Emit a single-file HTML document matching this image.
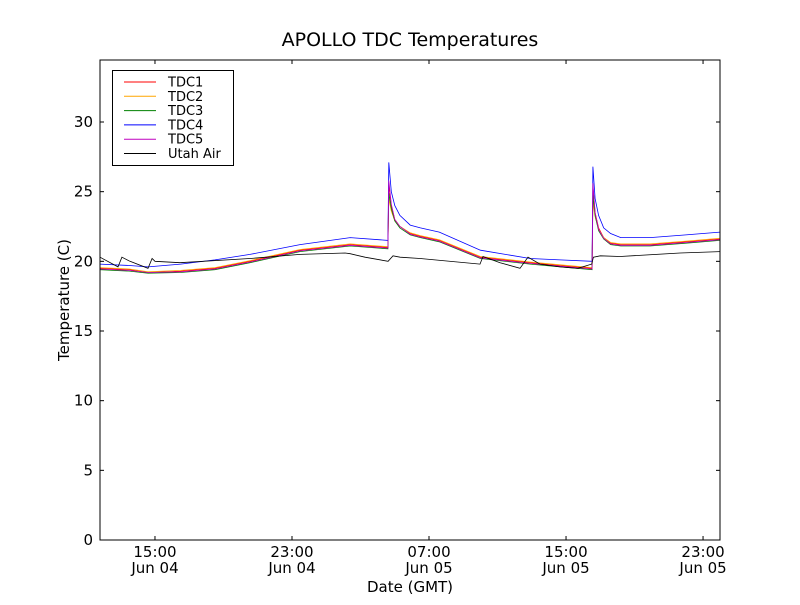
<!DOCTYPE html>
<html><head><meta charset="utf-8"><style>
body{margin:0;background:#fff;font-family:"Liberation Sans","DejaVu Sans",sans-serif}
svg text{font-family:"DejaVu Sans","Liberation Sans",sans-serif}
</style></head><body>
<svg id="chart" width="800" height="600" xmlns="http://www.w3.org/2000/svg">
<rect width="800" height="600" fill="#fff"/>
<text x="410" y="46" font-size="19" text-anchor="middle">APOLLO TDC Temperatures</text>
<g id="plot"></g>
<text x="410" y="592" font-size="15" text-anchor="middle">Date (GMT)</text>
<text transform="translate(69,300) rotate(-90)" font-size="15" text-anchor="middle">Temperature (C)</text>
</svg>
<script>
const tdcTimes=[11.79,13.5,14.6,16.5,18.5,20.55,23.47,26.4,28.6,28.65,28.8,29.0,29.3,29.9,30.5,31.6,34.0,36.9,38.65,40.52,40.57,40.7,40.9,41.2,41.6,42.2,43.9,46.0,47.99];
const tdc1=[19.5,19.4,19.2,19.3,19.5,20.0,20.8,21.2,21.0,25.5,24.0,23.0,22.5,22.0,21.8,21.5,20.3,19.9,19.7,19.5,25.4,23.5,22.4,21.7,21.3,21.2,21.2,21.4,21.6];
const tdc2=[19.55,19.45,19.25,19.35,19.55,20.05,20.85,21.25,21.05,24.5,23.6,22.9,22.5,22.05,21.85,21.55,20.35,19.95,19.75,19.55,24.3,23.2,22.3,21.7,21.35,21.25,21.25,21.45,21.65];
const tdc3=[19.4,19.3,19.15,19.2,19.4,19.9,20.7,21.1,20.9,24.9,23.8,22.9,22.4,21.9,21.7,21.4,20.2,19.8,19.6,19.4,24.8,23.3,22.2,21.6,21.2,21.1,21.1,21.3,21.5];
const tdc4=[19.8,19.7,19.6,19.8,20.1,20.5,21.2,21.7,21.5,27.1,25.0,24.0,23.3,22.6,22.4,22.1,20.8,20.2,20.1,20.0,26.8,24.5,23.3,22.4,22.0,21.7,21.7,21.9,22.1];
const tdc5=[19.45,19.35,19.2,19.25,19.45,19.95,20.75,21.15,20.95,25.8,24.1,23.0,22.5,21.95,21.75,21.45,20.25,19.85,19.65,19.45,25.6,23.5,22.3,21.65,21.25,21.15,21.15,21.35,21.55];
const airTimes=[11.79,12.84,13.07,13.54,14.59,14.83,15.0,16.46,20.55,23.47,26.1,26.39,27.26,28.61,28.9,29.31,30.48,33.98,34.15,35.15,36.31,36.78,37.48,38.65,39.7,40.5,40.6,41.0,42.16,45.66,47.99];
const air=[20.3,19.6,20.3,20.0,19.5,20.2,20.0,19.9,20.2,20.5,20.6,20.55,20.3,20.0,20.4,20.3,20.2,19.8,20.35,19.9,19.5,20.3,19.8,19.6,19.5,19.8,20.3,20.4,20.35,20.6,20.7];
const yTicks=[0,5,10,15,20,25,30];
const xTicks=[15,23,31,39,47];
const xTimeLabels=["15:00","23:00","07:00","15:00","23:00"];
const xDateLabels=["Jun 04","Jun 04","Jun 05","Jun 05","Jun 05"];
const series=[["TDC1",tdcTimes,tdc1,"#ff0000"],["TDC2",tdcTimes,tdc2,"#ffa500"],["TDC3",tdcTimes,tdc3,"#008000"],["TDC4",tdcTimes,tdc4,"#0000ff"],["TDC5",tdcTimes,tdc5,"#bf00bf"],["Utah Air",airTimes,air,"#000000"]];
const L=100,R=720,T=60,B=540,xMin=11.79,xMax=47.99,yMin=0,yMax=34.45;
const xs=h=>L+(h-xMin)/(xMax-xMin)*(R-L);
const ys=v=>B-(v-yMin)/(yMax-yMin)*(B-T);
const NS="http://www.w3.org/2000/svg";
const g=document.getElementById('plot');
function mk(tag,attrs,parent){const e=document.createElementNS(NS,tag);for(const k in attrs)e.setAttribute(k,attrs[k]);(parent||g).appendChild(e);return e;}
series.forEach(s=>{
  const d=s[1].map((t,i)=>(i?'L':'M')+xs(t).toFixed(1)+','+ys(s[2][i]).toFixed(1)).join('');
  const p=mk('path',{d:d,fill:'none',stroke:s[3],'stroke-width':0.8});
  
  
});
const frame=mk('rect',{x:L,y:T,width:R-L,height:B-T,fill:'none',stroke:'#000','stroke-width':1});


yTicks.forEach(v=>{
  const y=ys(v);
  mk('line',{x1:L,x2:L+4,y1:y,y2:y,stroke:'#000'});
  mk('line',{x1:R,x2:R-4,y1:y,y2:y,stroke:'#000'});
  const t=mk('text',{x:L-7,y:y+5,'font-size':15,'text-anchor':'end'});
  t.textContent=v;
  
  
});
xTicks.forEach((h,i)=>{
  const x=xs(h);
  mk('line',{x1:x,x2:x,y1:B,y2:B-4,stroke:'#000'});
  mk('line',{x1:x,x2:x,y1:T,y2:T+4,stroke:'#000'});
  const t=mk('text',{x:x,y:B+17,'font-size':15,'text-anchor':'middle'});
  t.textContent=xTimeLabels[i];
  
  
  const t2=mk('text',{x:x,y:B+33,'font-size':15,'text-anchor':'middle'});
  t2.textContent=xDateLabels[i];
  
  
});
const lg=mk('g',{});


mk('rect',{x:112.5,y:70.5,width:121,height:95,fill:'#fff',stroke:'#000','stroke-width':1},lg);
series.forEach((s,i)=>{
  const y=82+i*14.3;
  mk('line',{x1:124,x2:156,y1:y,y2:y,stroke:s[3],'stroke-width':1},lg);
  const t=mk('text',{x:168,y:y+4.5,'font-size':13},lg);
  t.textContent=s[0];
  
  
});
</script>
</body></html>
